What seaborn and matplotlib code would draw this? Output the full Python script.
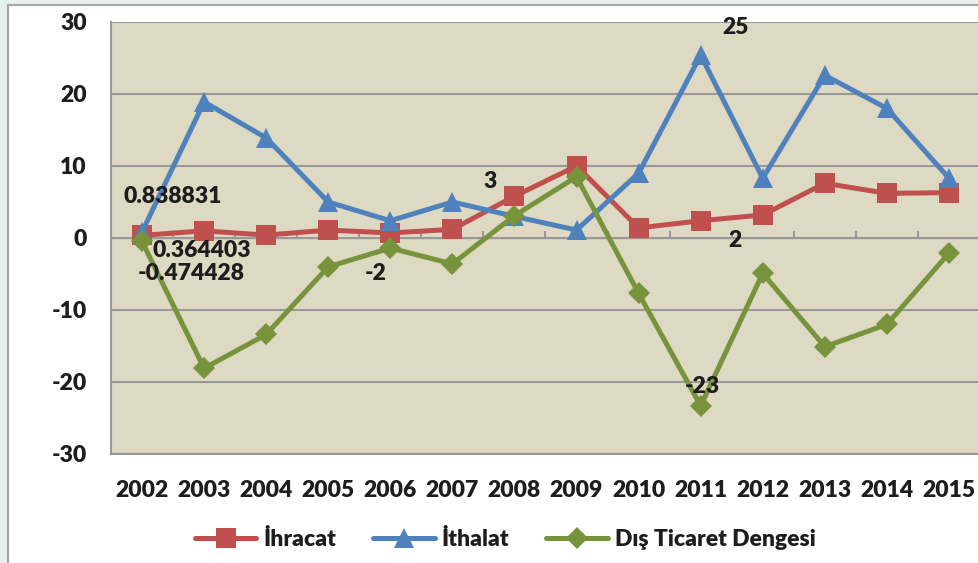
import numpy as np
import pandas as pd
import matplotlib
matplotlib.use("Agg")
import matplotlib.pyplot as plt
import seaborn as sns
from matplotlib.patches import Rectangle
from matplotlib.lines import Line2D

# Veriler (%)
yillar = [2002, 2003, 2004, 2005, 2006, 2007, 2008, 2009, 2010, 2011, 2012, 2013, 2014, 2015]
ihracat = [0.364403, 1.0, 0.4, 1.1, 0.7, 1.2, 5.8, 10.0, 1.4, 2.4, 3.2, 7.6, 6.2, 6.3]
ithalat = [0.838831, 18.9, 13.9, 5.0, 2.4, 5.0, 3.0, 1.1, 9.0, 25.4, 8.3, 22.6, 18.0, 8.3]
denge = [-0.474428, -18.1, -13.4, -4.0, -1.4, -3.6, 3.1, 8.5, -7.7, -23.3, -4.9, -15.1, -12.0, -2.1]
seri_adlari = ["İhracat", "İthalat", "Dış Ticaret Dengesi"]

# elle yerlestirilmis veri etiketleri
etiketler = ["0.838831", "0.364403", "-0.474428", "-2", "3", "25", "2", "-23"]
etiket_x = [0.5, 0.97, 0.8, 3.77, 5.6, 9.57, 9.55, 9.02]
etiket_y = [5.8, -1.8, -4.9, -4.9, 7.9, 29.3, -0.3, -20.6]

renkler = ["#c0504d", "#4f81bd", "#77933c"]
isaretler = ["s", "^", "D"]
boyutlar = [14, 15, 11.5]
gri = "#999999"
yazi = "#1e1c1c"
fs = 16.5
kalin = "heavy"

sns.set_style("white")
plt.rcParams["font.family"] = ["Lato", "DejaVu Sans"]
plt.rcParams["font.weight"] = kalin
plt.rcParams["axes.unicode_minus"] = False

fig = plt.figure(figsize=(9.79, 5.63), dpi=100, facecolor="#e6f0ec")
fig.patches.append(Rectangle((8 / 979, -0.1), 1.1, 1 - 5 / 563 + 0.1, transform=fig.transFigure,
                             facecolor="white", edgecolor="#a6a6a6", lw=1.5, zorder=-10))
ax = fig.add_axes([111 / 979, 109 / 563, 869 / 979, 432 / 563])
ax.set_zorder(1)
ax.set_facecolor("#ddd9c3")

df = pd.DataFrame({
    "sira": list(range(len(yillar))) * 3,
    "deger": ihracat + ithalat + denge,
    "seri": np.repeat(seri_adlari, len(yillar)),
})

for ad, renk, isaret, boy in zip(seri_adlari, renkler, isaretler, boyutlar):
    sns.lineplot(data=df[df["seri"] == ad], x="sira", y="deger", color=renk, marker=isaret,
                 markersize=boy, markeredgewidth=0, linewidth=3.6, ax=ax, legend=False)

ax.set_xlim(-0.5, len(yillar) - 0.5)
ax.set_ylim(-30, 30)
ax.set_yticks(range(-30, 31, 10))
ax.set_xticks(range(len(yillar)), [str(y) for y in yillar])
ax.set_xlabel("")
ax.set_ylabel("")
ax.grid(axis="y", color=gri, lw=1.5)
ax.set_axisbelow(True)
ax.tick_params(axis="x", length=0, pad=19, labelsize=fs, labelcolor=yazi)
ax.tick_params(axis="y", length=6.5, width=1.5, color=gri, pad=11, labelsize=fs, labelcolor=yazi)
for s in ["top", "right"]:
    ax.spines[s].set_visible(False)
for s in ["left", "bottom"]:
    ax.spines[s].set_color(gri)
    ax.spines[s].set_linewidth(1.5)

# sifir ekseni uzerindeki kategori ayirici cizgiler
sec = ax.secondary_xaxis(0.5)
sec.set_xticks(np.arange(-0.5, len(yillar), 1), labels=[""] * (len(yillar) + 1))
sec.tick_params(length=5, width=1.5, color=gri)
sec.spines["bottom"].set_visible(False)

for t, x, y in zip(etiketler, etiket_x, etiket_y):
    ax.text(x, y, t, ha="center", va="center", fontsize=fs, fontweight=kalin, color=yazi, zorder=5)

tutamaclar = [Line2D([], [], color=r, lw=3.6, marker=m, markersize=b, markeredgewidth=0)
              for r, m, b in zip(renkler, isaretler, boyutlar)]
fig.legend(tutamaclar, seri_adlari, loc="center", bbox_to_anchor=(505 / 979, 23 / 563), ncol=3,
           frameon=False, handlelength=2.7, handletextpad=0.3, columnspacing=1.6,
           prop={"size": fs, "weight": kalin}, labelcolor=yazi)

fig.savefig("out.png", dpi=100, facecolor=fig.get_facecolor())
